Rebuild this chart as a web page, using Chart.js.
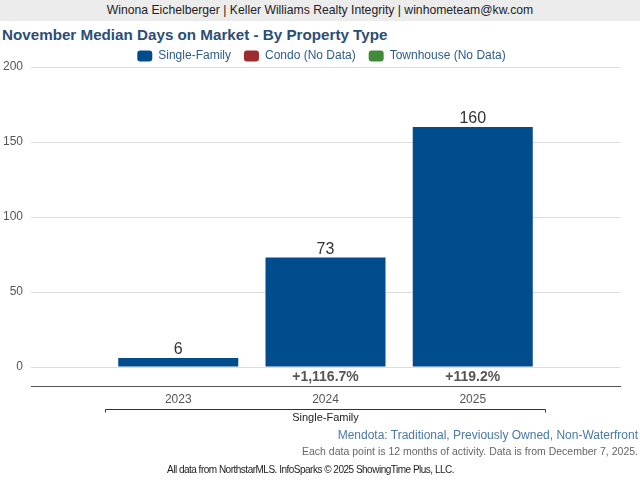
<!DOCTYPE html>
<html>
<head>
<meta charset="utf-8">
<script src="https://cdn.jsdelivr.net/npm/chart.js@4.4.1/dist/chart.umd.min.js"></script>
<style>
  html, body { margin: 0; padding: 0; background: #fff; }
  body { width: 640px; height: 480px; position: relative; overflow: hidden; font-family: 'Liberation Sans', Arial, sans-serif; }
  .header { position: absolute; left: 0; top: 0; width: 640px; height: 21px; background: #ececec; color: #222; font-size: 12.2px; line-height: 21px; text-align: center; }
  .title { position: absolute; left: 2px; top: 26px; font-size: 15.2px; font-weight: bold; color: #2b4d76; white-space: nowrap; }
  .sub1 { position: absolute; right: 2px; top: 428px; font-size: 12px; color: #4a78a8; white-space: nowrap; }
  .sub2 { position: absolute; right: 2px; top: 445px; font-size: 10.5px; color: #666; white-space: nowrap; }
  .src { position: absolute; left: 0; width: 621px; text-align: center; top: 464px; font-size: 10px; color: #222; white-space: nowrap; letter-spacing: -0.5px; }
  #wrap { position: absolute; left: 0; top: 0; width: 640px; height: 480px; }
</style>
</head>
<body>
<div class="header">Winona Eichelberger | Keller Williams Realty Integrity | winhometeam@kw.com</div>
<div class="title">November Median Days on Market - By Property Type</div>
<div id="wrap"><canvas id="chart" width="640" height="480"></canvas></div>
<div class="sub1">Mendota: Traditional, Previously Owned, Non-Waterfront</div>
<div class="sub2">Each data point is 12 months of activity. Data is from December 7, 2025.</div>
<div class="src">All data from NorthstarMLS. InfoSparks © 2025 ShowingTime Plus, LLC.</div>
<script>
// 数据
const years = ['2023', '2024', '2025'];
const singleFamily = [6, 73, 160];
const condo = [];
const townhouse = [];
const yTicks = [0, 50, 100, 150, 200];
const groupName = 'Single-Family';

// 分类轴两端各留一个空位
const labels = [''].concat(years, ['']);
const pad = arr => [null].concat(arr, [null]);

// 同比变化
function changeText(i) {
  if (i === 0) return '';
  const pct = (singleFamily[i] / singleFamily[i - 1] - 1) * 100;
  return '+' + pct.toLocaleString('en-US', { minimumFractionDigits: 1, maximumFractionDigits: 1 }) + '%';
}

const FONT = "'Liberation Sans', Arial, sans-serif";

// 图例高度压缩一点，让绘图区贴近图例
const legendFit = {
  id: 'legendFit',
  beforeLayout(chart) {
    const lg = chart.legend;
    if (!lg || lg._fitPatched) return;
    const fit = lg.fit;
    lg.fit = function () { fit.call(this); this.height = 30; };
    lg._fitPatched = true;
  }
};

// 柱子上方数值和下方百分比
const barLabels = {
  id: 'barLabels',
  afterDatasetsDraw(chart) {
    const ctx = chart.ctx;
    const meta = chart.getDatasetMeta(0);
    const y0 = chart.scales.y.getPixelForValue(0);
    const bottom = chart.chartArea.bottom;
    ctx.save();
    ctx.textAlign = 'center';
    meta.data.forEach((bar, idx) => {
      const i = idx - 1;
      if (i < 0 || i >= singleFamily.length) return;
      ctx.fillStyle = '#333';
      ctx.font = '16px ' + FONT;
      ctx.textBaseline = 'alphabetic';
      ctx.fillText(String(singleFamily[i]), bar.x, bar.y - 4);
      ctx.fillStyle = '#555';
      ctx.font = 'bold 14px ' + FONT;
      ctx.textBaseline = 'middle';
      ctx.fillText(changeText(i), bar.x, (y0 + bottom) / 2 + 1);
    });
    ctx.restore();
  }
};

// 分组括号
const groupBracket = {
  id: 'groupBracket',
  afterDraw(chart) {
    const ctx = chart.ctx;
    const x = chart.scales.x;
    const half = (x.getPixelForValue(2) - x.getPixelForValue(1)) / 2;
    const left = Math.round(x.getPixelForValue(1) - half) + 0.5;
    const right = Math.round(x.getPixelForValue(years.length) + half) - 0.5;
    const y = 409.5;
    ctx.save();
    ctx.strokeStyle = '#333';
    ctx.lineWidth = 1;
    ctx.beginPath();
    ctx.moveTo(left, y + 3);
    ctx.lineTo(left, y);
    ctx.lineTo(right, y);
    ctx.lineTo(right, y + 3);
    ctx.stroke();
    ctx.fillStyle = '#222';
    ctx.font = '11px ' + FONT;
    ctx.textAlign = 'center';
    ctx.textBaseline = 'middle';
    ctx.fillText(groupName, (left + right) / 2, 418);
    ctx.restore();
  }
};

document.addEventListener('DOMContentLoaded', () => {
  const ctx = document.getElementById('chart').getContext('2d');
  new Chart(ctx, {
    type: 'bar',
    data: {
      labels: labels,
      datasets: [{
        label: 'Single-Family',
        data: pad(singleFamily),
        backgroundColor: '#004c8c',
        grouped: false,
        categoryPercentage: 1,
        barPercentage: 0.815
      }, {
        label: 'Condo (No Data)',
        data: pad(condo),
        backgroundColor: '#9e2b2e',
        grouped: false
      }, {
        label: 'Townhouse (No Data)',
        data: pad(townhouse),
        backgroundColor: '#3f8b3a',
        grouped: false
      }]
    },
    options: {
      responsive: false,
      animation: false,
      devicePixelRatio: 1,
      layout: { padding: { top: 37, right: 0, left: 3, bottom: 0 } },
      plugins: {
        legend: {
          display: true,
          position: 'top',
          labels: {
            boxWidth: 15,
            boxHeight: 11,
            useBorderRadius: true,
            borderRadius: 3,
            padding: 13,
            color: '#2e5c8a',
            font: { family: FONT, size: 12 }
          }
        },
        tooltip: { enabled: false }
      },
      scales: {
        x: {
          offset: false,
          grid: { display: false, drawTicks: false, offset: false },
          border: { display: true, color: '#555', width: 1 },
          ticks: { color: '#555', font: { family: FONT, size: 12 }, padding: 6, maxRotation: 0, autoSkip: false },
          afterFit: s => { s.height = 94; }
        },
        y: {
          min: -12.6,
          max: 200,
          afterBuildTicks: s => { s.ticks = yTicks.map(v => ({ value: v })); },
          grid: { color: '#dcdcdc', drawTicks: false },
          border: { display: false },
          ticks: { color: '#555', font: { family: FONT, size: 12 }, padding: 8 },
          afterFit: s => { s.width = 28; }
        },
        // 右侧留白用的空轴
        yRight: {
          position: 'right',
          display: true,
          grid: { display: false, drawTicks: false },
          border: { display: false },
          ticks: { display: false },
          afterFit: s => { s.width = 20; }
        }
      }
    },
    plugins: [legendFit, barLabels, groupBracket]
  });
});
</script>
</body>
</html>
